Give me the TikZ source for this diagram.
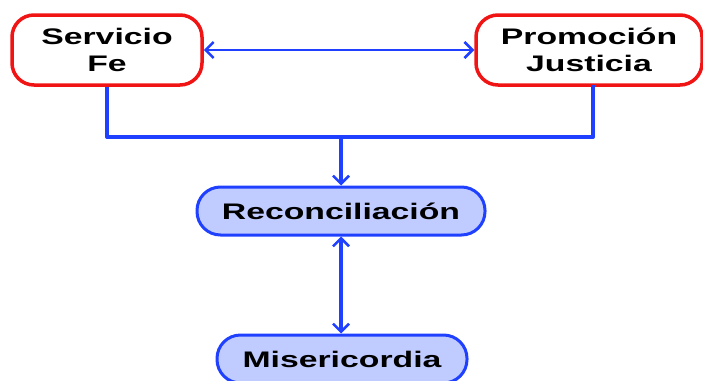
\documentclass[tikz,border=0pt]{standalone}
\usepackage{fontspec}
\setmainfont{Liberation Sans}
\usetikzlibrary{arrows.meta}
\definecolor{lineblue}{RGB}{32,64,255}
\definecolor{fillblue}{RGB}{192,203,255}
\definecolor{boxred}{RGB}{240,20,20}
\newcommand{\wide}[1]{\scalebox{1.5}[1]{#1}}
\tikzset{
  redbox/.style={draw=boxred, line width=3.5pt, rounded corners=22pt, fill=white, align=center,
    font=\bfseries\fontsize{22.5}{27}\selectfont, inner sep=0pt},
  bluebox/.style={draw=lineblue, line width=3pt, rounded corners=23.5pt, fill=fillblue, align=center,
    font=\bfseries\fontsize{22.5}{27}\selectfont, inner sep=0pt},
  link/.style={draw=lineblue, line width=4pt},
  tip/.style={-{Straight Barb[length=8pt,width=16pt,line width=2.5pt]}},
  dtip/.style={{Straight Barb[length=8pt,width=16pt,line width=2.5pt]}-{Straight Barb[length=8pt,width=16pt,line width=2.5pt]}}
}
\begin{document}
\begin{tikzpicture}[x=1pt,y=-1pt]
\useasboundingbox (0,0) rectangle (703,380);
\node[redbox, minimum width=190pt, minimum height=70pt] (sf) at (107,50) {\wide{Servicio}\\\wide{Fe}};
\node[redbox, minimum width=226pt, minimum height=70pt] (pj) at (589,50) {\wide{Promoción}\\\wide{Justicia}};
\node[bluebox, minimum width=288pt, minimum height=48pt] (rc) at (341,211) {\wide{Reconciliación}};
\node[bluebox, minimum width=250pt, minimum height=48pt] (mi) at (342,359) {\wide{Misericordia}};
\coordinate (j) at (341,137);
\coordinate (pjb) at (593,85);
\draw[link, line width=2.5pt, dtip] (sf.east) -- (pj.west);
\draw[link, line join=round] (sf.south) |- (j) -| (pjb);
\draw[link, tip] (j) -- (rc.north);
\draw[link, line width=3.5pt, dtip] (rc.south) -- (rc.south |- mi.north);
\end{tikzpicture}
\end{document}
